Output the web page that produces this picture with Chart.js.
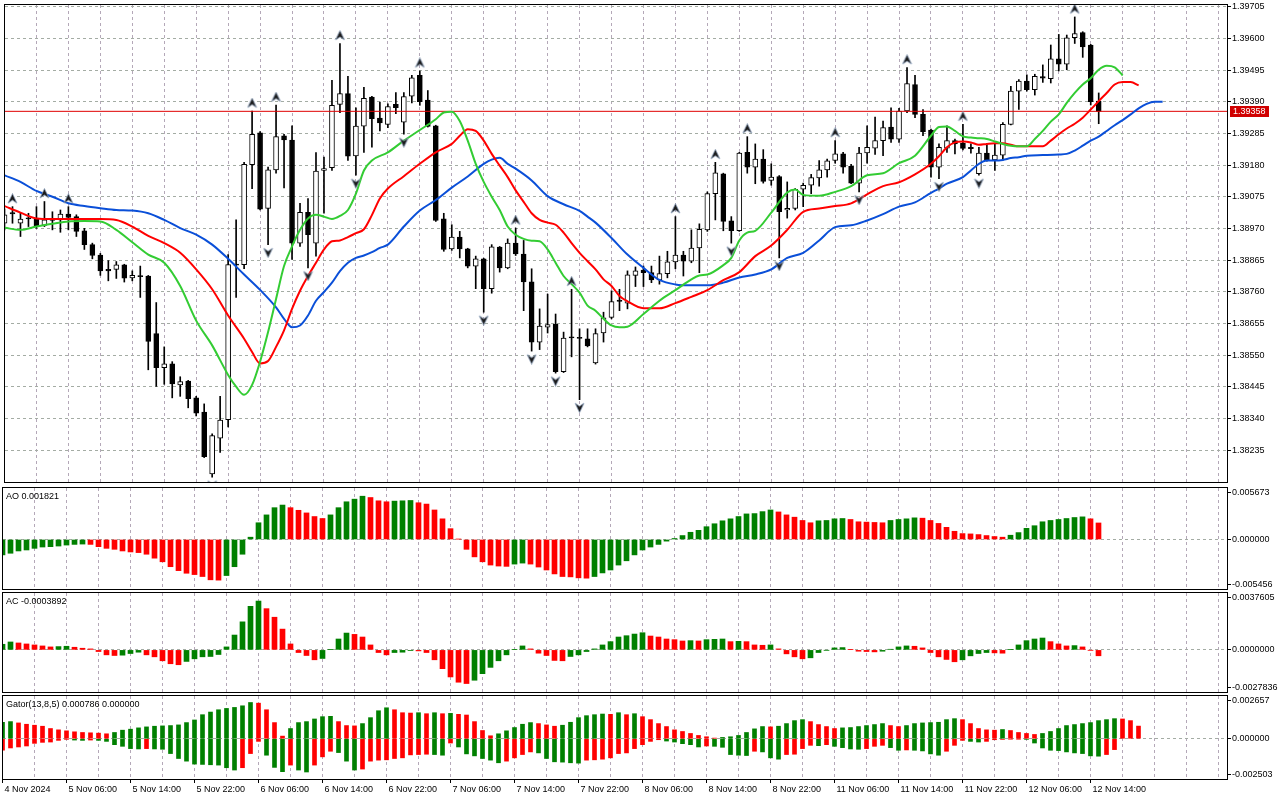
<!DOCTYPE html>
<html lang="en">
<head>
<meta charset="utf-8">
<title>H1 chart - Alligator, Fractals, AO, AC, Gator</title>
<script src="https://cdn.jsdelivr.net/npm/chart.js@4.4.1/dist/chart.umd.min.js"></script>
<style>
  html, body { margin: 0; padding: 0; background: #ffffff; }
  #terminal { position: relative; width: 1280px; height: 800px; overflow: hidden; background: #ffffff; }
  .pane { position: absolute; left: 0; width: 1280px; }
</style>
</head>
<body>
<div id="terminal">
  <div class="pane" style="top:0px;height:487px"><canvas id="pricePane"></canvas></div>
  <div class="pane" style="top:485px;height:106px"><canvas id="aoPane"></canvas></div>
  <div class="pane" style="top:589px;height:106px"><canvas id="acPane"></canvas></div>
  <div class="pane" style="top:692px;height:108px"><canvas id="gatorPane"></canvas></div>
</div>
<script>
// ---- data (one bar per hour, bar 0 = 4 Nov 22:00) ----

// time axis labels, one every 8 bars
const timeLabels = ['4 Nov 2024', '5 Nov 06:00', '5 Nov 14:00', '5 Nov 22:00', '6 Nov 06:00', '6 Nov 14:00',
  '6 Nov 22:00', '7 Nov 06:00', '7 Nov 14:00', '7 Nov 22:00', '8 Nov 06:00', '8 Nov 14:00', '8 Nov 22:00',
  '11 Nov 06:00', '11 Nov 14:00', '11 Nov 22:00', '12 Nov 06:00', '12 Nov 14:00'];

const priceTicks = [1.38235, 1.38340, 1.38445, 1.38550, 1.38655, 1.38760, 1.38865, 1.38970,
  1.39075, 1.39180, 1.39285, 1.39390, 1.39495, 1.39600, 1.39705];

const bidPrice = 1.39358;

const openP = [1.38987, 1.39022, 1.38987, 1.39005, 1.39004, 1.38980, 1.39001, 1.38998, 1.39017, 1.39009,
  1.38962, 1.38916, 1.38881, 1.38834, 1.38834, 1.38849, 1.38806, 1.38813, 1.38812, 1.38621,
  1.38508, 1.38521, 1.38451, 1.38464, 1.38408, 1.38361, 1.38156, 1.38274, 1.38336, 1.38850,
  1.38850, 1.39181, 1.39287, 1.39036, 1.39164, 1.39277, 1.39263, 1.38921, 1.39023, 1.38921,
  1.39162, 1.39171, 1.39381, 1.39417, 1.39210, 1.39309, 1.39405, 1.39336, 1.39315, 1.39381,
  1.39322, 1.39408, 1.39477, 1.39395, 1.39310, 1.39002, 1.38902, 1.38941, 1.38902, 1.38845,
  1.38869, 1.38770, 1.38908, 1.38839, 1.38921, 1.38885, 1.38793, 1.38593, 1.38642, 1.38653,
  1.38495, 1.38610, 1.38607, 1.38604, 1.38524, 1.38623, 1.38675, 1.38732, 1.38722, 1.38814,
  1.38832, 1.38823, 1.38799, 1.38820, 1.38859, 1.38881, 1.38861, 1.38905, 1.38965, 1.39085,
  1.39151, 1.38995, 1.38962, 1.39222, 1.39173, 1.39200, 1.39129, 1.39142, 1.39031, 1.39036,
  1.39100, 1.39113, 1.39137, 1.39164, 1.39195, 1.39217, 1.39176, 1.39120, 1.39220, 1.39236,
  1.39261, 1.39306, 1.39266, 1.39359, 1.39447, 1.39348, 1.39296, 1.39173, 1.39236, 1.39261,
  1.39252, 1.39239, 1.39151, 1.39220, 1.39197, 1.39213, 1.39315, 1.39425, 1.39458, 1.39430,
  1.39473, 1.39466, 1.39532, 1.39514, 1.39602, 1.39619, 1.39578, 1.39392];

const highP = [1.39035, 1.39042, 1.39020, 1.39020, 1.39042, 1.39059, 1.39025, 1.39031, 1.39042, 1.39015,
  1.38970, 1.38921, 1.38887, 1.38863, 1.38860, 1.38851, 1.38829, 1.38845, 1.38814, 1.38724,
  1.38577, 1.38528, 1.38478, 1.38466, 1.38413, 1.38388, 1.38289, 1.38413, 1.38883, 1.38998,
  1.39189, 1.39359, 1.39291, 1.39173, 1.39379, 1.39282, 1.39310, 1.39053, 1.39069, 1.39221,
  1.39206, 1.39461, 1.39583, 1.39474, 1.39370, 1.39438, 1.39408, 1.39389, 1.39383, 1.39420,
  1.39420, 1.39477, 1.39492, 1.39427, 1.39312, 1.39020, 1.38982, 1.38960, 1.38904, 1.38878,
  1.38871, 1.38916, 1.38910, 1.38935, 1.38971, 1.38930, 1.38836, 1.38703, 1.38752, 1.38686,
  1.38626, 1.38768, 1.38637, 1.38637, 1.38637, 1.38692, 1.38763, 1.38768, 1.38829, 1.38842,
  1.38845, 1.38845, 1.38878, 1.38894, 1.39009, 1.38894, 1.38965, 1.38985, 1.39091, 1.39189,
  1.39153, 1.39009, 1.39222, 1.39274, 1.39250, 1.39231, 1.39184, 1.39145, 1.39124, 1.39102,
  1.39120, 1.39149, 1.39195, 1.39200, 1.39261, 1.39222, 1.39182, 1.39239, 1.39310, 1.39339,
  1.39326, 1.39370, 1.39368, 1.39503, 1.39477, 1.39364, 1.39299, 1.39250, 1.39310, 1.39266,
  1.39315, 1.39250, 1.39239, 1.39252, 1.39250, 1.39321, 1.39441, 1.39463, 1.39479, 1.39481,
  1.39512, 1.39578, 1.39613, 1.39611, 1.39671, 1.39622, 1.39580, 1.39419];

const lowP = [1.38965, 1.38987, 1.38943, 1.38976, 1.38970, 1.38976, 1.38965, 1.38957, 1.38965, 1.38943,
  1.38900, 1.38869, 1.38814, 1.38796, 1.38804, 1.38792, 1.38796, 1.38741, 1.38501, 1.38446,
  1.38453, 1.38408, 1.38413, 1.38375, 1.38348, 1.38210, 1.38145, 1.38227, 1.38312, 1.38741,
  1.38836, 1.39102, 1.39031, 1.38916, 1.39153, 1.39104, 1.38867, 1.38910, 1.38839, 1.38878,
  1.39020, 1.39162, 1.39354, 1.39195, 1.39146, 1.39222, 1.39239, 1.39293, 1.39304, 1.39350,
  1.39282, 1.39386, 1.39378, 1.39306, 1.38993, 1.38894, 1.38897, 1.38872, 1.38839, 1.38770,
  1.38692, 1.38755, 1.38825, 1.38836, 1.38880, 1.38697, 1.38563, 1.38568, 1.38623, 1.38490,
  1.38492, 1.38544, 1.38402, 1.38577, 1.38520, 1.38593, 1.38670, 1.38697, 1.38703, 1.38777,
  1.38777, 1.38790, 1.38785, 1.38806, 1.38836, 1.38812, 1.38856, 1.38823, 1.38960, 1.38998,
  1.38962, 1.38921, 1.38960, 1.39153, 1.39118, 1.39120, 1.39113, 1.38872, 1.39004, 1.39031,
  1.39042, 1.39085, 1.39110, 1.39140, 1.39186, 1.39153, 1.39118, 1.39091, 1.39186, 1.39215,
  1.39211, 1.39255, 1.39255, 1.39354, 1.39337, 1.39277, 1.39140, 1.39135, 1.39222, 1.39217,
  1.39230, 1.39219, 1.39146, 1.39193, 1.39162, 1.39197, 1.39313, 1.39364, 1.39425, 1.39412,
  1.39454, 1.39452, 1.39492, 1.39496, 1.39583, 1.39537, 1.39379, 1.39317];

const closeP = [1.39015, 1.39018, 1.39001, 1.39001, 1.38976, 1.38998, 1.38996, 1.39017, 1.39006, 1.38960,
  1.38916, 1.38880, 1.38829, 1.38829, 1.38849, 1.38805, 1.38814, 1.38810, 1.38595, 1.38508,
  1.38521, 1.38454, 1.38462, 1.38405, 1.38357, 1.38213, 1.38283, 1.38334, 1.38850, 1.38848,
  1.39182, 1.39282, 1.39034, 1.39164, 1.39274, 1.39263, 1.38921, 1.39023, 1.38949, 1.39160,
  1.39168, 1.39378, 1.39417, 1.39209, 1.39309, 1.39401, 1.39334, 1.39320, 1.39374, 1.39370,
  1.39407, 1.39469, 1.39390, 1.39308, 1.38996, 1.38900, 1.38941, 1.38902, 1.38845, 1.38869,
  1.38770, 1.38909, 1.38839, 1.38921, 1.38885, 1.38792, 1.38593, 1.38646, 1.38651, 1.38495,
  1.38606, 1.38607, 1.38605, 1.38580, 1.38621, 1.38673, 1.38727, 1.38728, 1.38816, 1.38829,
  1.38823, 1.38799, 1.38820, 1.38859, 1.38881, 1.38861, 1.38905, 1.38967, 1.39085, 1.39154,
  1.38993, 1.38962, 1.39220, 1.39173, 1.39200, 1.39126, 1.39140, 1.39025, 1.39036, 1.39099,
  1.39113, 1.39138, 1.39164, 1.39194, 1.39217, 1.39173, 1.39120, 1.39220, 1.39239, 1.39261,
  1.39304, 1.39266, 1.39359, 1.39450, 1.39348, 1.39291, 1.39173, 1.39239, 1.39261, 1.39250,
  1.39235, 1.39234, 1.39220, 1.39195, 1.39213, 1.39315, 1.39425, 1.39458, 1.39430, 1.39474,
  1.39468, 1.39532, 1.39514, 1.39602, 1.39616, 1.39572, 1.39390, 1.39358];

// fractal bars (arrow above the high / below the low)
const upFractals = [1, 5, 8, 31, 34, 42, 52, 64, 71, 84, 89, 93, 104, 113, 120, 134];
const downFractals = [26, 33, 38, 44, 50, 60, 66, 69, 72, 91, 97, 107, 117, 122];

// alligator lines, sampled where read (already shifted forward as on the chart)
const jawBars = [0, 2, 4, 6, 8, 10, 12, 14, 16, 18, 20, 22, 24, 26, 28, 30, 32, 34, 35, 36, 37, 38, 39, 40,
  41, 42, 43, 44, 45, 46, 47, 48, 50, 52, 54, 56, 58, 60, 61, 62, 63, 64, 66, 68, 70, 72, 73, 74, 76, 78,
  80, 82, 84, 86, 88, 90, 92, 94, 96, 98, 100, 102, 104, 106, 108, 110, 112, 114, 116, 117, 118, 120, 121,
  122, 123, 124, 125, 126, 127, 128, 130, 132, 133, 134, 135, 136, 137, 138, 139, 140, 141, 142, 143, 144, 145];
const jawVals = [1.39146, 1.39124, 1.39094, 1.39075, 1.39053, 1.39044, 1.39037, 1.39031, 1.39029, 1.39020,
  1.38998, 1.38971, 1.38949, 1.38916, 1.38869, 1.38817, 1.38766, 1.38708, 1.38670, 1.38642, 1.38648, 1.38681,
  1.38730, 1.38759, 1.38790, 1.38828, 1.38856, 1.38872, 1.38880, 1.38891, 1.38905, 1.38916, 1.38976, 1.39029,
  1.39064, 1.39105, 1.39142, 1.39184, 1.39198, 1.39204, 1.39184, 1.39168, 1.39129, 1.39077, 1.39050, 1.39028,
  1.39009, 1.38989, 1.38938, 1.38883, 1.38839, 1.38799, 1.38784, 1.38781, 1.38781, 1.38790, 1.38807, 1.38817,
  1.38834, 1.38872, 1.38889, 1.38930, 1.38974, 1.38980, 1.38996, 1.39017, 1.39042, 1.39056, 1.39088, 1.39102,
  1.39118, 1.39140, 1.39162, 1.39184, 1.39195, 1.39195, 1.39197, 1.39203, 1.39206, 1.39211, 1.39213, 1.39215,
  1.39217, 1.39228, 1.39244, 1.39261, 1.39274, 1.39293, 1.39312, 1.39329, 1.39348, 1.39368, 1.39383, 1.39390, 1.39390];

const teethBars = [0, 2, 4, 6, 8, 10, 12, 14, 16, 18, 20, 22, 24, 26, 28, 30, 31, 32, 33, 34, 35, 36, 37, 38,
  39, 40, 41, 42, 43, 44, 45, 46, 47, 48, 50, 52, 54, 56, 57, 58, 59, 60, 61, 62, 63, 64, 65, 66, 67, 68, 69,
  70, 71, 72, 73, 74, 75, 76, 77, 78, 80, 82, 84, 86, 88, 90, 92, 94, 96, 98, 100, 102, 104, 106, 108, 110,
  112, 114, 116, 117, 118, 119, 120, 121, 122, 123, 124, 125, 126, 127, 128, 129, 130, 131, 132, 133, 134,
  135, 136, 137, 138, 139, 140, 141, 142];
const teethVals = [1.39044, 1.39022, 1.39003, 1.39001, 1.39001, 1.39001, 1.39001, 1.38998, 1.38976, 1.38945,
  1.38921, 1.38889, 1.38834, 1.38768, 1.38681, 1.38604, 1.38560, 1.38522, 1.38530, 1.38577, 1.38632, 1.38703,
  1.38763, 1.38812, 1.38856, 1.38900, 1.38927, 1.38930, 1.38941, 1.38954, 1.38967, 1.39014, 1.39069, 1.39102,
  1.39143, 1.39184, 1.39222, 1.39250, 1.39277, 1.39299, 1.39293, 1.39261, 1.39217, 1.39178, 1.39140, 1.39096,
  1.39058, 1.39020, 1.38998, 1.38989, 1.38982, 1.38956, 1.38921, 1.38889, 1.38861, 1.38834, 1.38801, 1.38779,
  1.38746, 1.38728, 1.38705, 1.38705, 1.38722, 1.38743, 1.38765, 1.38798, 1.38825, 1.38878, 1.38913, 1.38965,
  1.39025, 1.39036, 1.39044, 1.39053, 1.39083, 1.39110, 1.39123, 1.39149, 1.39184, 1.39209, 1.39239, 1.39255,
  1.39258, 1.39255, 1.39247, 1.39250, 1.39252, 1.39252, 1.39247, 1.39242, 1.39242, 1.39242, 1.39242, 1.39261,
  1.39282, 1.39301, 1.39317, 1.39337, 1.39364, 1.39392, 1.39419, 1.39447, 1.39455, 1.39455, 1.39444];

const lipsBars = [0, 2, 4, 6, 8, 10, 12, 14, 16, 18, 20, 22, 24, 26, 28, 29, 30, 31, 32, 33, 34, 35, 36, 37,
  38, 39, 40, 41, 42, 43, 44, 45, 46, 48, 50, 52, 54, 55, 56, 57, 58, 59, 60, 61, 62, 63, 64, 65, 66, 67, 68,
  69, 70, 71, 72, 73, 74, 75, 76, 77, 78, 80, 82, 84, 86, 87, 88, 90, 91, 92, 93, 94, 96, 98, 99, 100, 102,
  104, 106, 108, 110, 112, 114, 116, 117, 118, 119, 120, 121, 122, 123, 124, 125, 126, 127, 128, 129, 130,
  131, 132, 133, 134, 135, 136, 137, 138, 139, 140];
const lipsVals = [1.38972, 1.38965, 1.38976, 1.38985, 1.38993, 1.38994, 1.38993, 1.38965, 1.38924, 1.38883,
  1.38856, 1.38779, 1.38664, 1.38582, 1.38484, 1.38445, 1.38418, 1.38451, 1.38528, 1.38626, 1.38736, 1.38845,
  1.38910, 1.38965, 1.39003, 1.39015, 1.39009, 1.39001, 1.39011, 1.39031, 1.39085, 1.39162, 1.39195, 1.39222,
  1.39261, 1.39296, 1.39332, 1.39354, 1.39357, 1.39326, 1.39261, 1.39184, 1.39124, 1.39075, 1.39031, 1.38976,
  1.38949, 1.38935, 1.38929, 1.38927, 1.38900, 1.38856, 1.38812, 1.38785, 1.38757, 1.38714, 1.38697, 1.38670,
  1.38648, 1.38642, 1.38644, 1.38686, 1.38730, 1.38765, 1.38801, 1.38814, 1.38817, 1.38848, 1.38872, 1.38930,
  1.38956, 1.38962, 1.39022, 1.39089, 1.39099, 1.39081, 1.39078, 1.39091, 1.39110, 1.39146, 1.39153, 1.39186,
  1.39211, 1.39277, 1.39306, 1.39308, 1.39293, 1.39275, 1.39271, 1.39269, 1.39266, 1.39258, 1.39250, 1.39244,
  1.39242, 1.39242, 1.39266, 1.39293, 1.39324, 1.39348, 1.39386, 1.39419, 1.39447, 1.39468, 1.39496, 1.39509,
  1.39504, 1.39477];

// Awesome Oscillator
const aoScale = [-0.005456, 0, 0.005673];
const aoVals = [-0.001698, -0.001517, -0.001265, -0.001156, -0.000976, -0.000831, -0.000795, -0.000723, -0.000614, -0.000542,
  -0.000506, -0.000542, -0.000795, -0.000976, -0.001084, -0.001265, -0.001373, -0.001445, -0.001626, -0.002059,
  -0.002457, -0.002999, -0.003432, -0.003721, -0.003866, -0.004083, -0.004444, -0.004480, -0.003974, -0.002999,
  -0.001626, 0.000253, 0.001843, 0.002710, 0.003505, 0.003794, 0.003505, 0.003216, 0.002927, 0.002529,
  0.002312, 0.002710, 0.003505, 0.004155, 0.004444, 0.004769, 0.004625, 0.004263, 0.004155, 0.004227,
  0.004263, 0.004299, 0.004047, 0.003902, 0.003252, 0.002276, 0.001192, 0.000036, -0.001084, -0.001915,
  -0.002457, -0.002818, -0.002927, -0.002963, -0.002710, -0.002601, -0.002710, -0.003035, -0.003360, -0.003794,
  -0.004083, -0.004119, -0.004227, -0.004263, -0.004083, -0.003685, -0.003360, -0.002818, -0.002348, -0.001698,
  -0.001156, -0.000831, -0.000542, -0.000181, 0.000108, 0.000434, 0.000795, 0.001012, 0.001409, 0.001734,
  0.002059, 0.002276, 0.002529, 0.002818, 0.002854, 0.003071, 0.003252, 0.003035, 0.002710, 0.002457,
  0.002096, 0.001843, 0.002059, 0.002096, 0.002276, 0.002312, 0.002204, 0.001951, 0.001915, 0.001879,
  0.001843, 0.002096, 0.002204, 0.002276, 0.002385, 0.002348, 0.002096, 0.001770, 0.001337, 0.000903,
  0.000650, 0.000614, 0.000542, 0.000434, 0.000325, 0.000253, 0.000470, 0.000759, 0.001228, 0.001517,
  0.001951, 0.002096, 0.002204, 0.002312, 0.002421, 0.002493, 0.002276, 0.001821];

// Accelerator Oscillator
const acScale = [-0.0027836, 0, 0.0037605];
const acVals = [0.0003708, 0.0005234, 0.0004580, 0.0003926, 0.0003272, 0.0002617, 0.0001963, 0.0002181, 0.0002399, 0.0001745,
  0.0001091, 0.0000654, -0.0001091, -0.0003272, -0.0003708, -0.0003490, -0.0002399, -0.0001527, -0.0003272, -0.0004580,
  -0.0007197, -0.0009160, -0.0009815, -0.0007634, -0.0005889, -0.0004580, -0.0004362, -0.0003053, 0.0001963, 0.0009815,
  0.0018539, 0.0028789, 0.0032279, 0.0027263, 0.0021592, 0.0013740, 0.0003926, -0.0001745, -0.0003708, -0.0006543,
  -0.0005671, 0.0000218, 0.0007197, 0.0011123, 0.0010251, 0.0008506, 0.0003272, -0.0001745, -0.0003272, -0.0001745,
  -0.0001527, -0.0000436, -0.0000654, -0.0001745, -0.0006543, -0.0012432, -0.0017884, -0.0021374, -0.0022246, -0.0020065,
  -0.0015703, -0.0011559, -0.0007197, -0.0003272, 0.0000218, 0.0002617, 0.0000654, -0.0002181, -0.0003708, -0.0006979,
  -0.0007197, -0.0004362, -0.0003272, -0.0001091, 0.0000654, 0.0003272, 0.0005453, 0.0008506, 0.0009378, 0.0010469,
  0.0011341, 0.0009160, 0.0008506, 0.0007197, 0.0006761, 0.0005889, 0.0006107, 0.0005889, 0.0006761, 0.0006979,
  0.0007197, 0.0005453, 0.0005671, 0.0005453, 0.0003272, 0.0003053, 0.0003272, 0.0000654, -0.0002617, -0.0004580,
  -0.0005889, -0.0005234, -0.0001745, -0.0000218, 0.0001309, 0.0001527, 0.0000218, -0.0000872, -0.0001091, -0.0001309,
  -0.0000872, 0.0000436, 0.0001963, 0.0002617, 0.0002399, 0.0001309, -0.0001745, -0.0004580, -0.0006325, -0.0007852,
  -0.0006543, -0.0003926, -0.0002399, -0.0001745, -0.0001963, -0.0002181, 0.0000218, 0.0003272, 0.0006107, 0.0007197,
  0.0007852, 0.0005453, 0.0003926, 0.0002617, 0.0002835, 0.0001963, -0.0000218, -0.0003892];

// Gator oscillator (13,8,5)
const gatorScale = [-0.002503, 0, 0.002657];
const gatorUp = [0.001024, 0.001065, 0.000983, 0.000901, 0.000840, 0.000778, 0.000635, 0.000553, 0.000492, 0.000430,
  0.000389, 0.000369, 0.000348, 0.000307, 0.000389, 0.000532, 0.000594, 0.000676, 0.000737, 0.000778,
  0.000799, 0.000819, 0.000860, 0.001004, 0.001167, 0.001495, 0.001659, 0.001802, 0.001884, 0.001946,
  0.002048, 0.002253, 0.002212, 0.001802, 0.001004, 0.000164, 0.000635, 0.001004, 0.001065, 0.001229,
  0.001372, 0.001393, 0.001065, 0.000819, 0.000799, 0.000942, 0.001311, 0.001741, 0.001925, 0.001802,
  0.001618, 0.001597, 0.001618, 0.001556, 0.001618, 0.001556, 0.001577, 0.001516, 0.001475, 0.001065,
  0.000512, 0.000184, 0.000307, 0.000492, 0.000696, 0.000901, 0.001004, 0.000942, 0.000860, 0.000778,
  0.000840, 0.001024, 0.001311, 0.001434, 0.001495, 0.001536, 0.001516, 0.001618, 0.001495, 0.001556,
  0.001372, 0.001188, 0.000942, 0.000758, 0.000553, 0.000451, 0.000328, 0.000205, 0.000123, 0.000041,
  0.000082, 0.000123, 0.000205, 0.000389, 0.000614, 0.000758, 0.000737, 0.000778, 0.000942, 0.001126,
  0.001188, 0.001065, 0.000881, 0.000758, 0.000635, 0.000676, 0.000696, 0.000758, 0.000819, 0.000881,
  0.000942, 0.000819, 0.000758, 0.000819, 0.000942, 0.000983, 0.001004, 0.001024, 0.001188, 0.001249,
  0.001188, 0.000942, 0.000635, 0.000553, 0.000532, 0.000573, 0.000512, 0.000389, 0.000328, 0.000266,
  0.000328, 0.000451, 0.000635, 0.000819, 0.000881, 0.000942, 0.001004, 0.001126, 0.001188, 0.001249,
  0.001229, 0.001126, 0.000786];
const gatorDown = [-0.000717, -0.000573, -0.000512, -0.000451, -0.000287, -0.000225, -0.000205, -0.000102, -0.000041, -0.000082,
  -0.000102, -0.000082, -0.000102, -0.000164, -0.000369, -0.000471, -0.000614, -0.000635, -0.000614, -0.000635,
  -0.000655, -0.000922, -0.001229, -0.001393, -0.001577, -0.001597, -0.001618, -0.001638, -0.001802, -0.001946,
  -0.001802, -0.000922, -0.000164, -0.001024, -0.001782, -0.002048, -0.001638, -0.001946, -0.002068, -0.001638,
  -0.001126, -0.000778, -0.000860, -0.001393, -0.001946, -0.001884, -0.001393, -0.001331, -0.001311, -0.001229,
  -0.001188, -0.001004, -0.000983, -0.000963, -0.000983, -0.001024, -0.000266, -0.000512, -0.000942, -0.001065,
  -0.001229, -0.001331, -0.001495, -0.001393, -0.001188, -0.000983, -0.000819, -0.000881, -0.001229, -0.001434,
  -0.001454, -0.001495, -0.001516, -0.001331, -0.001311, -0.001270, -0.001188, -0.000922, -0.000881, -0.000614,
  -0.000369, -0.000164, -0.000061, -0.000143, -0.000205, -0.000307, -0.000369, -0.000512, -0.000451, -0.000471,
  -0.000532, -0.000983, -0.001024, -0.001044, -0.000778, -0.000819, -0.001188, -0.001270, -0.000983, -0.000963,
  -0.000614, -0.000410, -0.000430, -0.000369, -0.000471, -0.000553, -0.000635, -0.000655, -0.000614, -0.000471,
  -0.000410, -0.000553, -0.000717, -0.000696, -0.000717, -0.000758, -0.000942, -0.001024, -0.000778, -0.000410,
  -0.000102, -0.000164, -0.000205, -0.000164, -0.000061, -0.000041, -0.000020, -0.000015, -0.000041, -0.000266,
  -0.000573, -0.000717, -0.000737, -0.000819, -0.000881, -0.000922, -0.001065, -0.001085, -0.000983, -0.000676];

// ---- styling ----
const GRID_H = '#a4aca4', GRID_V = '#b4a8b8';
const GREEN = '#008000', RED = '#ff0000';
const LIPS = '#33cc33', TEETH = '#ff0000', JAW = '#0a4fd8';
const FONT_FAMILY = "'Liberation Sans', Arial, sans-serif";
const FONT_SIZE = 9;
Chart.defaults.font.family = FONT_FAMILY;
Chart.defaults.font.size = FONT_SIZE;
Chart.defaults.color = '#000';

// 8 px per bar, bar centres land on half pixels
const X_MIN = 0.0625, X_MAX = 153.0625;
const gridBars = [];
for (let b = 0; b <= 152; b += 4) gridBars.push(b);

function timeLabelAt(v) {
  return v % 8 === 0 && timeLabels[v / 8] ? timeLabels[v / 8] : '';
}

function points(xs, ys) {
  return xs.map((x, k) => ({ x: x, y: ys[k] }));
}

// green when the bar grew against the previous one, red otherwise
function barColours(vals, byMagnitude, first) {
  return vals.map((v, i) => {
    if (i === 0) return first;
    const a = byMagnitude ? Math.abs(v) : v;
    const b = byMagnitude ? Math.abs(vals[i - 1]) : vals[i - 1];
    return a > b ? GREEN : RED;
  });
}

function xAxis(showLabels) {
  return {
    type: 'linear', min: X_MIN, max: X_MAX, offset: false,
    afterBuildTicks: s => { s.ticks = gridBars.map(v => ({ value: v })); },
    afterFit: s => {
      s.height = showLabels ? 21 : 0;
      s.paddingLeft = 0; s.paddingRight = 0;
    },
    grid: {
      color: GRID_V, lineWidth: 1, offset: false, borderDash: [3, 3],
      drawTicks: showLabels, tickLength: 4, tickBorderDash: [],
      tickColor: c => (c.tick && timeLabelAt(c.tick.value) ? '#000' : 'rgba(0,0,0,0)')
    },
    border: { display: false, dash: [3, 3] },
    ticks: {
      display: showLabels, autoSkip: false, maxRotation: 0, minRotation: 0,
      align: 'start', labelOffset: 2, padding: 1, color: '#000',
      font: { family: FONT_FAMILY, size: FONT_SIZE },
      callback: v => timeLabelAt(v)
    }
  };
}

function subY(scaleVals, digits, areaHeight) {
  const lo = scaleVals[0], hi = scaleVals[2];
  const inset = (hi - lo) * 4.5 / areaHeight;   // edge labels sit just inside the pane
  return {
    type: 'linear', position: 'right', min: lo, max: hi,
    afterBuildTicks: s => { s.ticks = [{ value: lo + inset }, { value: 0 }, { value: hi - inset }]; },
    afterFit: s => { s.width = 53; s.paddingTop = 0; s.paddingBottom = 0; },
    grid: {
      color: c => (c.tick && c.tick.value === 0 ? GRID_H : 'rgba(0,0,0,0)'),
      borderDash: [3, 3], tickLength: 4, tickColor: '#000', tickBorderDash: []
    },
    border: { display: false, dash: [3, 3] },
    ticks: {
      color: '#000', padding: 1, font: { family: FONT_FAMILY, size: FONT_SIZE },
      callback: (v, i) => scaleVals[i].toFixed(digits)
    }
  };
}

// black frame round each pane plus its caption
const paneFrame = {
  id: 'paneFrame',
  afterDraw(chart, args, opts) {
    const ctx = chart.ctx, a = chart.chartArea;
    ctx.save();
    ctx.strokeStyle = '#000';
    ctx.lineWidth = 1;
    ctx.strokeRect(a.left - 0.5, a.top - 0.5, a.right - a.left + 1, a.bottom - a.top + 1);
    if (opts && opts.title) {
      ctx.fillStyle = '#000';
      ctx.font = FONT_SIZE + 'px ' + FONT_FAMILY;
      ctx.textAlign = 'left';
      ctx.textBaseline = 'middle';
      ctx.fillText(opts.title, a.left + 3, a.top + 8.5);
    }
    ctx.restore();
  }
};

// red bid label on the price axis
const bidTag = {
  id: 'bidTag',
  afterDraw(chart) {
    const ctx = chart.ctx;
    const y = Math.round(chart.scales.y.getPixelForValue(bidPrice));
    const x = chart.chartArea.right + 3;
    ctx.save();
    ctx.fillStyle = '#d00000';
    ctx.fillRect(x, y - 5, 39, 11);
    ctx.fillStyle = '#ffffff';
    ctx.font = FONT_SIZE + 'px ' + FONT_FAMILY;
    ctx.textAlign = 'left';
    ctx.textBaseline = 'middle';
    ctx.fillText(bidPrice.toFixed(5), x + 3, y + 0.5);
    ctx.restore();
  }
};

function fractalSprite(up) {
  const c = document.createElement('canvas');
  c.width = 11; c.height = 27;
  const g = c.getContext('2d');
  if (!up) { g.translate(0, 27); g.scale(1, -1); }
  g.beginPath();
  g.moveTo(5.5, 0.5); g.lineTo(10, 10); g.lineTo(5.5, 7); g.lineTo(1, 10); g.closePath();
  g.fillStyle = '#1a1a1a';
  g.fill();
  g.strokeStyle = '#8ea2be';
  g.lineWidth = 0.8;
  g.stroke();
  return c;
}

const baseOptions = {
  responsive: true, maintainAspectRatio: false, animation: false, events: [],
  plugins: { legend: { display: false }, tooltip: { enabled: false } }
};

// ---- price pane ----
new Chart(document.getElementById('pricePane'), {
  type: 'bar',
  data: {
    datasets: [
      { type: 'line', data: upFractals.map(i => ({ x: i, y: highP[i] })), showLine: false,
        pointStyle: fractalSprite(true), pointRadius: 4, order: 0 },
      { type: 'line', data: downFractals.map(i => ({ x: i, y: lowP[i] })), showLine: false,
        pointStyle: fractalSprite(false), pointRadius: 4, order: 0 },
      { type: 'line', data: points(lipsBars, lipsVals), borderColor: LIPS, borderWidth: 2,
        pointRadius: 0, cubicInterpolationMode: 'monotone', order: 1 },
      { type: 'line', data: points(teethBars, teethVals), borderColor: TEETH, borderWidth: 2,
        pointRadius: 0, cubicInterpolationMode: 'monotone', order: 2 },
      { type: 'line', data: points(jawBars, jawVals), borderColor: JAW, borderWidth: 2,
        pointRadius: 0, cubicInterpolationMode: 'monotone', order: 3 },
      { type: 'line', data: [{ x: X_MIN - 1, y: bidPrice }, { x: X_MAX + 1, y: bidPrice }],
        borderColor: '#e00000', borderWidth: 1, pointRadius: 0, order: 4 },
      { data: openP.map((o, i) => ({ x: i, y: [o, closeP[i]] })),
        backgroundColor: openP.map((o, i) => (closeP[i] >= o ? '#ffffff' : '#000000')),
        borderColor: '#000', borderWidth: 1, borderSkipped: false, barThickness: 5,
        minBarLength: 1, grouped: false, order: 5 },
      { data: lowP.map((l, i) => ({ x: i, y: [l, highP[i]] })), backgroundColor: '#000',
        borderWidth: 0, barThickness: 1, grouped: false, order: 6 }
    ]
  },
  options: Object.assign({}, baseOptions, {
    layout: { padding: { left: 3, right: 0, top: 3, bottom: 2 } },
    scales: {
      x: xAxis(false),
      y: {
        type: 'linear', position: 'right', min: 1.38129, max: 1.397106,
        afterBuildTicks: s => { s.ticks = priceTicks.map(v => ({ value: v })); },
        afterFit: s => { s.width = 53; s.paddingTop = 0; s.paddingBottom = 0; },
        grid: { color: GRID_H, borderDash: [3, 3], tickLength: 4, tickColor: '#000', tickBorderDash: [] },
        border: { display: false, dash: [3, 3] },
        ticks: { color: '#000', padding: 1, font: { family: FONT_FAMILY, size: FONT_SIZE }, callback: v => v.toFixed(5) }
      }
    }
  }),
  plugins: [paneFrame, bidTag]
});

// ---- oscillator panes ----
function histogramPane(id, datasets, yAxis, title, padTop, padBottom, showTime) {
  return new Chart(document.getElementById(id), {
    type: 'bar',
    data: { datasets: datasets },
    options: Object.assign({}, baseOptions, {
      layout: { padding: { left: 3, right: 0, top: padTop, bottom: padBottom } },
      plugins: { legend: { display: false }, tooltip: { enabled: false }, paneFrame: { title: title } },
      scales: { x: xAxis(showTime), y: yAxis }
    }),
    plugins: [paneFrame]
  });
}

histogramPane('aoPane', [
  { data: aoVals.map((v, i) => ({ x: i, y: v })), backgroundColor: barColours(aoVals, false, GREEN),
    borderWidth: 0, barThickness: 5, grouped: false }
], subY(aoScale, 6, 101), 'AO ' + aoVals[aoVals.length - 1].toFixed(6), 3, 2, false);

histogramPane('acPane', [
  { data: acVals.map((v, i) => ({ x: i, y: v })), backgroundColor: barColours(acVals, false, GREEN),
    borderWidth: 0, barThickness: 5, grouped: false }
], subY(acScale, 7, 99), 'AC ' + acVals[acVals.length - 1].toFixed(7), 4, 3, false);

histogramPane('gatorPane', [
  { data: gatorUp.map((v, i) => ({ x: i, y: v })), backgroundColor: barColours(gatorUp, true, GREEN),
    borderWidth: 0, barThickness: 4, grouped: false },
  { data: gatorDown.map((v, i) => ({ x: i, y: v })), backgroundColor: barColours(gatorDown, true, RED),
    borderWidth: 0, barThickness: 4, grouped: false }
], subY(gatorScale, 6, 83), 'Gator(13,8,5) ' + gatorUp[gatorUp.length - 1].toFixed(6) + ' 0.000000', 4, 0, true);
</script>
</body>
</html>
